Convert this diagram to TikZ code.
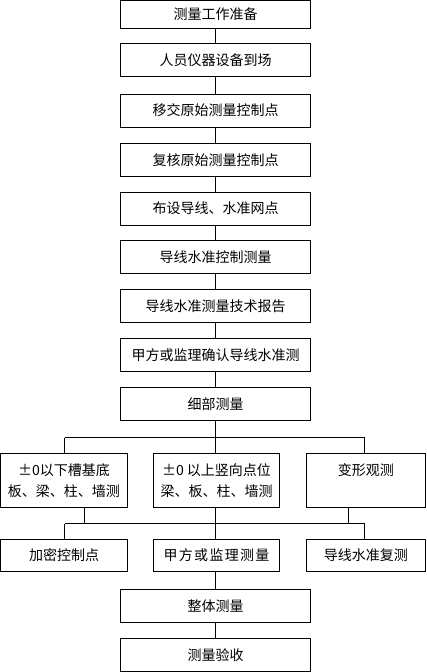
\documentclass[tikz,border=0pt]{standalone}
\usepackage{fontspec}
\newfontfamily\cjk{Noto Sans CJK SC}
\begin{document}
\begin{tikzpicture}[x=1pt,y=-1pt,
  box/.style={draw, line width=0.9pt, inner sep=0pt, font=\cjk\fontsize{14}{21}\selectfont, align=center},
  wide/.style={box, minimum width=190pt, minimum height=33pt},
  conn/.style={line width=0.9pt}]
\useasboundingbox (0,0) rectangle (426,672);
% main chain
\node[wide, minimum height=27.5pt] (b1) at (215.5,14.25) {测量工作准备};
\node[wide] (b2) at (215.5,60) {人员仪器设备到场};
\node[wide] (b3) at (215.5,110.5) {移交原始测量控制点};
\node[wide] (b4) at (215.5,160) {复核原始测量控制点};
\node[wide] (b5) at (215.5,208.5) {布设导线、水准网点};
\node[wide] (b6) at (215.5,257) {导线水准控制测量};
\node[wide] (b7) at (215.5,306) {导线水准测量技术报告};
\node[wide] (b8) at (215.5,355) {甲方或监理确认导线水准测};
\node[wide] (b9) at (215.5,404) {细部测量};
% row 10
\node[box, minimum width=127pt, minimum height=54pt] (c1) at (64,480.5) {±0以下槽基底\\板、梁、柱、墙测};
\node[box, minimum width=126pt, minimum height=54pt] (c2) at (216.5,480.5) {±0 以上竖向点位\\梁、板、柱、墙测};
\node[box, minimum width=119.5pt, minimum height=54pt] (c3) at (365.75,480.5) {变形观测\\\mbox{}};
% row 11
\node[box, minimum width=127pt, minimum height=32pt] (d1) at (64,555.5) {加密控制点};
\node[box, minimum width=126pt, minimum height=32pt] (d2) at (216.5,555.5) {\addfontfeature{LetterSpace=9}甲方或监理测量};
\node[box, minimum width=119.5pt, minimum height=32pt] (d3) at (365.75,555.5) {导线水准复测};
% bottom
\node[wide] (e1) at (215.5,606) {整体测量};
\node[wide] (e2) at (215.5,654.75) {测量验收};
% chain connectors
\foreach \a/\b in {b1/b2,b2/b3,b3/b4,b4/b5,b5/b6,b6/b7,b7/b8,b8/b9}
  \draw[conn] (\a.south) -- (\b.north);
% bus 1
\coordinate (h1L) at (64.5,437.5);
\coordinate (h1R) at (364.5,437.5);
\draw[conn] (b9.south) -- (b9.south |- h1L);
\draw[conn] (h1L) -- (h1R);
\draw[conn] (h1L) -- (h1L |- c1.north);
\draw[conn] (b9.south |- h1L) -- (b9.south |- c2.north);
\draw[conn] (h1R) -- (h1R |- c3.north);
% bus 2
\coordinate (h2L) at (64.5,523.5);
\coordinate (h2R) at (364.5,523.5);
\coordinate (s1) at (84.5,507.5);
\coordinate (s3) at (348.5,507.5);
\draw[conn] (s1 |- c1.south) -- (s1 |- h2L);
\draw[conn] (s3 |- c3.south) -- (s3 |- h2R);
\draw[conn] (h2L) -- (h2R);
\draw[conn] (h2L) -- (h2L |- d1.north);
\draw[conn] (h2R) -- (h2R |- d3.north);
\draw[conn] (b9.south |- c2.south) -- (b9.south |- d2.north);
% bottom connectors
\draw[conn] (b9.south |- d2.south) -- (e1.north);
\draw[conn] (e1.south) -- (e2.north);
\end{tikzpicture}
\end{document}
